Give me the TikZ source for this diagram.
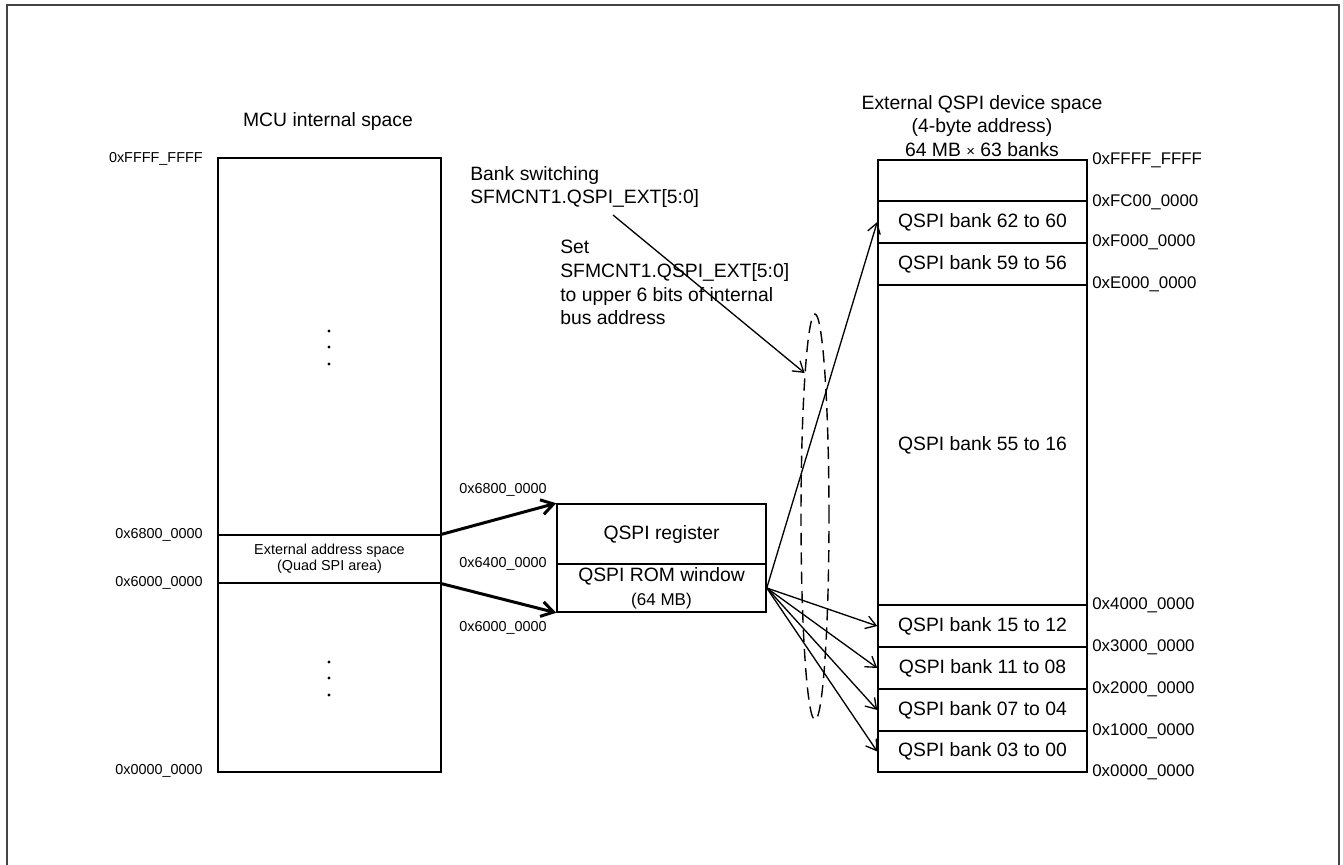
\documentclass[tikz,border=0pt]{standalone}
\usepackage{fontspec}
\setmainfont{Liberation Sans}
\usetikzlibrary{shapes.geometric,arrows.meta,positioning}
\definecolor{framegrey}{RGB}{68,68,68}

\begin{document}
\begin{tikzpicture}[x=0.02cm,y=-0.02cm,
  txt/.style={font=\fontsize{11}{13.6}\selectfont,inner sep=0pt},
  sadr/.style={font=\fontsize{8.2}{9.1}\selectfont,inner sep=0pt},
  radr/.style={font=\fontsize{9.6}{11}\selectfont,inner sep=0pt,anchor=west},
  memrow/.style={draw,line width=0.9pt,inner sep=0pt,minimum width=4.18cm,font=\fontsize{11}{13.6}\selectfont},
  thinarr/.style={-{Straight Barb[length=2mm,width=2.6mm]},line width=0.75pt},
  thickarr/.style={-{Straight Barb[length=2.4mm,width=3mm]},line width=1.7pt}]
\useasboundingbox (0,0) rectangle (1343,865);
\draw[framegrey,line width=1.1pt] (6.7,865) -- (6.7,5) -- (1339,5) -- (1339,865);
% MCU internal space
\node[txt] (mcuT) at (328,122) {MCU internal space};
\node[draw,line width=0.9pt,minimum width=4.46cm,minimum height=12.28cm,inner sep=0pt] (mcu) at (329.5,465) {};
\node[draw,line width=0.8pt,minimum width=4.46cm,minimum height=0.96cm,sadr,align=center] (ext) at (329.5,559) {External address space\\(Quad SPI area)};
\node[sadr,anchor=east] (l0) at (203,159) {0xFFFF\_FFFF};
\node[sadr,anchor=east] (l1) at (203,535) {0x6800\_0000};
\node[sadr,anchor=east] (l2) at (203,583) {0x6000\_0000};
\node[sadr,anchor=east] (l3) at (203,771) {0x0000\_0000};
\fill (329,331) circle (0.9pt); \fill (329,347) circle (0.9pt); \fill (329,364) circle (0.9pt);
\fill (329,662) circle (0.9pt); \fill (329,678) circle (0.9pt); \fill (329,695) circle (0.9pt);
% QSPI register / ROM window
\node[memrow,minimum height=1.2cm] (reg) at (661.5,534) {QSPI register};
\node[memrow,minimum height=0.96cm,align=center] (rom) at (661.5,588) {QSPI ROM window\\{\fontsize{9.7}{11}\selectfont (64 MB)}};
\node[sadr] (m0) at (503,490) {0x6800\_0000};
\node[sadr] (m1) at (503,564) {0x6400\_0000};
\node[sadr] (m2) at (503,628) {0x6000\_0000};
\draw[thickarr] (ext.north east) -- (reg.north west);
\draw[thickarr] (ext.south east) -- (rom.south west);
% external QSPI device space
\node[txt,align=center] (extT) at (982,126) {External QSPI device space\\(4-byte address)\\64 MB {\fontsize{8.5}{9}\selectfont ×} 63 banks};
\node[memrow,minimum height=0.82cm] (bTop) at (982.5,180.5) {};
\node[memrow,minimum height=0.84cm] (b6260) at (982.5,222) {QSPI bank 62 to 60};
\node[memrow,minimum height=0.84cm] (b5956) at (982.5,264) {QSPI bank 59 to 56};
\node[memrow,minimum height=6.4cm] (b5516) at (982.5,445) {QSPI bank 55 to 16};
\node[memrow,minimum height=0.84cm] (b1512) at (982.5,626) {QSPI bank 15 to 12};
\node[memrow,minimum height=0.84cm] (b1108) at (982.5,668) {QSPI bank 11 to 08};
\node[memrow,minimum height=0.84cm] (b0704) at (982.5,710) {QSPI bank 07 to 04};
\node[memrow,minimum height=0.82cm] (b0300) at (982.5,751.5) {QSPI bank 03 to 00};
\node[radr] (r0) at (1092,160) {0xFFFF\_FFFF};
\node[radr] (r1) at (1092,202) {0xFC00\_0000};
\node[radr] (r2) at (1092,242) {0xF000\_0000};
\node[radr] (r3) at (1092,284) {0xE000\_0000};
\node[radr] (r4) at (1092,605) {0x4000\_0000};
\node[radr] (r5) at (1092,647) {0x3000\_0000};
\node[radr] (r6) at (1092,689) {0x2000\_0000};
\node[radr] (r7) at (1092,731) {0x1000\_0000};
\node[radr] (r8) at (1092,772) {0x0000\_0000};
% bank switching
\node[txt,align=left,anchor=west] (bsw) at (470,187) {Bank switching\\SFMCNT1.QSPI\_EXT[5:0]};
\node[txt,align=left,anchor=west] (setN) at (560,282.5) {Set\\SFMCNT1.QSPI\_EXT[5:0]\\to upper 6 bits of internal\\bus address};
\coordinate (bswfoot) at (613,215);
\node[draw,ellipse,line width=0.8pt,dash pattern=on 7pt off 4pt,minimum width=0.56cm,minimum height=8.12cm,inner sep=0pt] (grp) at (815,517) {};
\draw[thinarr] (bswfoot) -- (grp.north west);
\draw[thinarr] (rom.east) -- (b6260.west);
\draw[thinarr] (rom.east) -- (b1512.west);
\draw[thinarr] (rom.east) -- (b1108.west);
\draw[thinarr] (rom.east) -- (b0704.west);
\draw[thinarr] (rom.east) -- (b0300.west);
\end{tikzpicture}
\end{document}
